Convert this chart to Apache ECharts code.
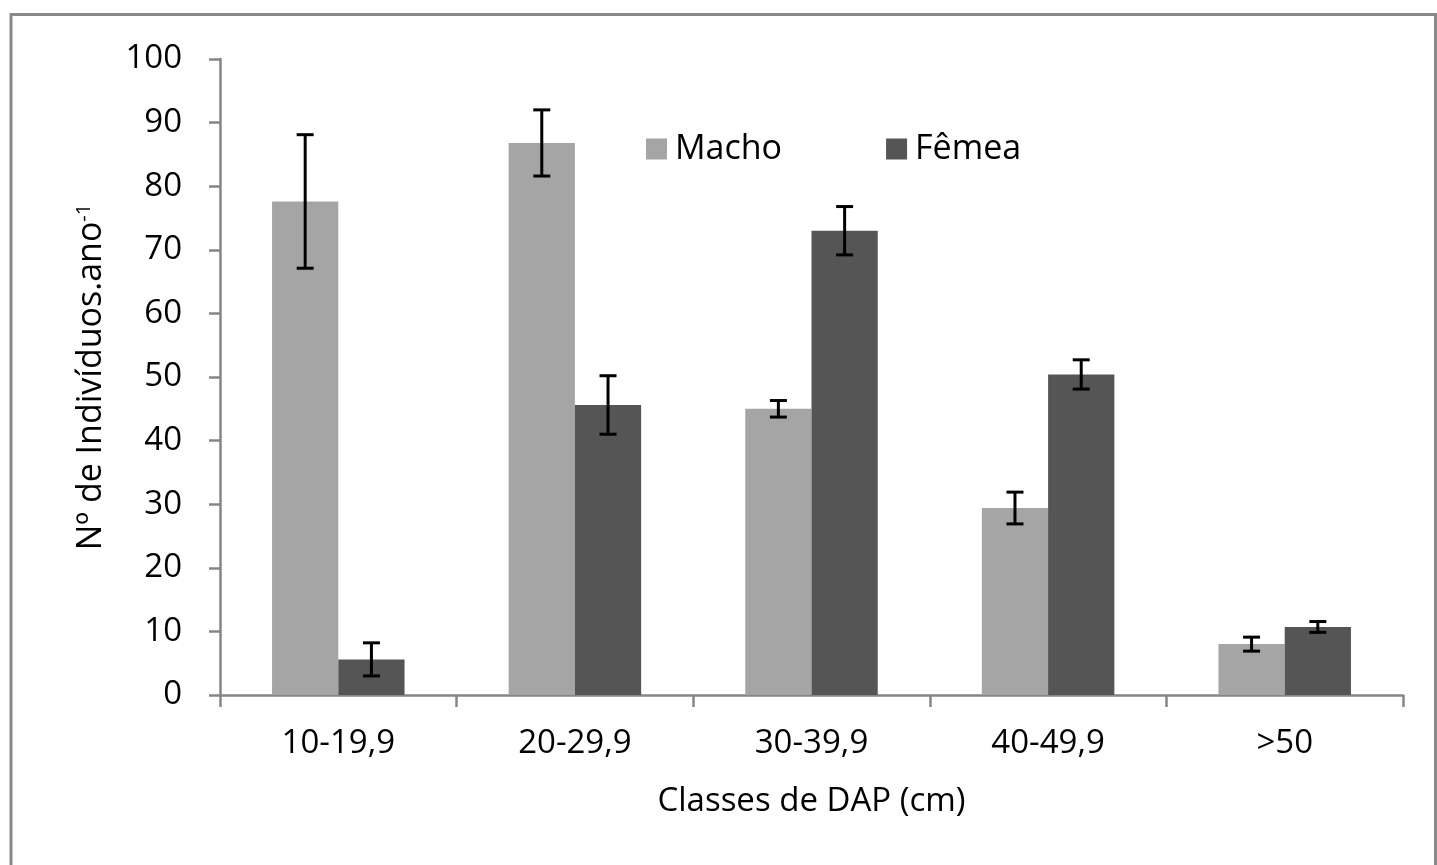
<!DOCTYPE html>
<html>
<head>
<meta charset="utf-8">
<script src="https://cdn.jsdelivr.net/npm/echarts@6/dist/echarts.min.js"></script>
<style>
html,body{margin:0;padding:0;background:#fff;}
#chart{width:1437px;height:865px;}
</style>
</head>
<body>
<div id="chart"></div>
<script>
var categories = ['10-19,9', '20-29,9', '30-39,9', '40-49,9', '>50'];
var machoValues = [77.6, 86.8, 45.0, 29.4, 8.0];
var machoErrors = [10.5, 5.2, 1.3, 2.5, 1.1];
var femeaValues = [5.6, 45.6, 73.0, 50.4, 10.7];
var femeaErrors = [2.6, 4.6, 3.8, 2.3, 0.85];
var yTicks = {min: 0, max: 100, interval: 10};

var FONT = '"Open Sans", sans-serif';
var AXIS_COLOR = '#868686';
var BAR_GAP_RATIO = 0.44;

function errData(vals, errs) {
  return vals.map(function (v, i) { return [i, v - errs[i], v + errs[i]]; });
}

function errRender(side) {
  return function (params, api) {
    var idx = api.value(0);
    var lo = api.coord([idx, api.value(1)]);
    var hi = api.coord([idx, api.value(2)]);
    var band = api.size([1, 0])[0];
    var bw = band * (1 - BAR_GAP_RATIO) / 2;
    var x = lo[0] + side * bw / 2;
    var cap = 8.5;
    var style = {stroke: '#000', lineWidth: 3, fill: null};
    return {
      type: 'group',
      children: [
        {type: 'line', shape: {x1: x, y1: lo[1], x2: x, y2: hi[1]}, style: style},
        {type: 'line', shape: {x1: x - cap, y1: lo[1], x2: x + cap, y2: lo[1]}, style: style},
        {type: 'line', shape: {x1: x - cap, y1: hi[1], x2: x + cap, y2: hi[1]}, style: style}
      ]
    };
  };
}

var chart = echarts.init(document.getElementById('chart'), null, {renderer: 'canvas'});
chart.setOption({
  backgroundColor: '#fff',
  animation: false,
  graphic: [{
    type: 'rect',
    shape: {x: 11, y: 14.5, width: 1424.5, height: 900},
    style: {fill: null, stroke: '#8a8a8a', lineWidth: 3},
    silent: true,
    z: -10
  }],
  grid: {left: 220, right: 34, top: 59, bottom: 170, containLabel: false},
  legend: {
    data: ['Macho', 'Fêmea'],
    left: 646,
    top: 132,
    padding: 0,
    icon: 'rect',
    itemWidth: 21,
    itemHeight: 21,
    itemGap: 104,
    textStyle: {fontFamily: FONT, fontSize: 34, color: '#000', padding: [0, 0, 0, 3]}
  },
  xAxis: {
    type: 'category',
    data: categories,
    name: 'Classes de DAP (cm)',
    nameLocation: 'middle',
    nameGap: 90,
    nameTextStyle: {fontFamily: FONT, fontSize: 33, color: '#000'},
    axisLine: {lineStyle: {color: AXIS_COLOR, width: 2.5}},
    axisTick: {show: true, length: 12, lineStyle: {color: AXIS_COLOR, width: 2.5}},
    axisLabel: {fontFamily: FONT, fontSize: 33, color: '#000', margin: 32},
    splitLine: {show: false}
  },
  yAxis: {
    type: 'value',
    min: yTicks.min,
    max: yTicks.max,
    interval: yTicks.interval,
    name: '{m|Nº de Indivíduos.ano}{s|-1}',
    nameLocation: 'middle',
    nameGap: 112,
    nameTextStyle: {
      color: '#000',
      rich: {
        m: {fontFamily: FONT, fontSize: 34, color: '#000'},
        s: {fontFamily: FONT, fontSize: 20, color: '#000', verticalAlign: 'top', padding: [0, 0, 14, 0]}
      }
    },
    axisLine: {show: true, lineStyle: {color: AXIS_COLOR, width: 2.5}},
    axisTick: {show: true, length: 11, lineStyle: {color: AXIS_COLOR, width: 2.5}},
    axisLabel: {fontFamily: FONT, fontSize: 33, color: '#000', margin: 38},
    splitLine: {show: false}
  },
  series: [
    {
      name: 'Macho',
      type: 'bar',
      data: machoValues,
      barGap: '0%',
      barCategoryGap: (BAR_GAP_RATIO * 100) + '%',
      itemStyle: {color: '#a5a5a5'}
    },
    {
      name: 'Fêmea',
      type: 'bar',
      data: femeaValues,
      barGap: '0%',
      barCategoryGap: (BAR_GAP_RATIO * 100) + '%',
      itemStyle: {color: '#555555'}
    },
    {
      name: 'errMacho',
      type: 'custom',
      renderItem: errRender(-1),
      data: errData(machoValues, machoErrors),
      encode: {x: 0, y: [1, 2]},
      z: 10,
      silent: true
    },
    {
      name: 'errFemea',
      type: 'custom',
      renderItem: errRender(1),
      data: errData(femeaValues, femeaErrors),
      encode: {x: 0, y: [1, 2]},
      z: 10,
      silent: true
    }
  ]
});
</script>
</body>
</html>
